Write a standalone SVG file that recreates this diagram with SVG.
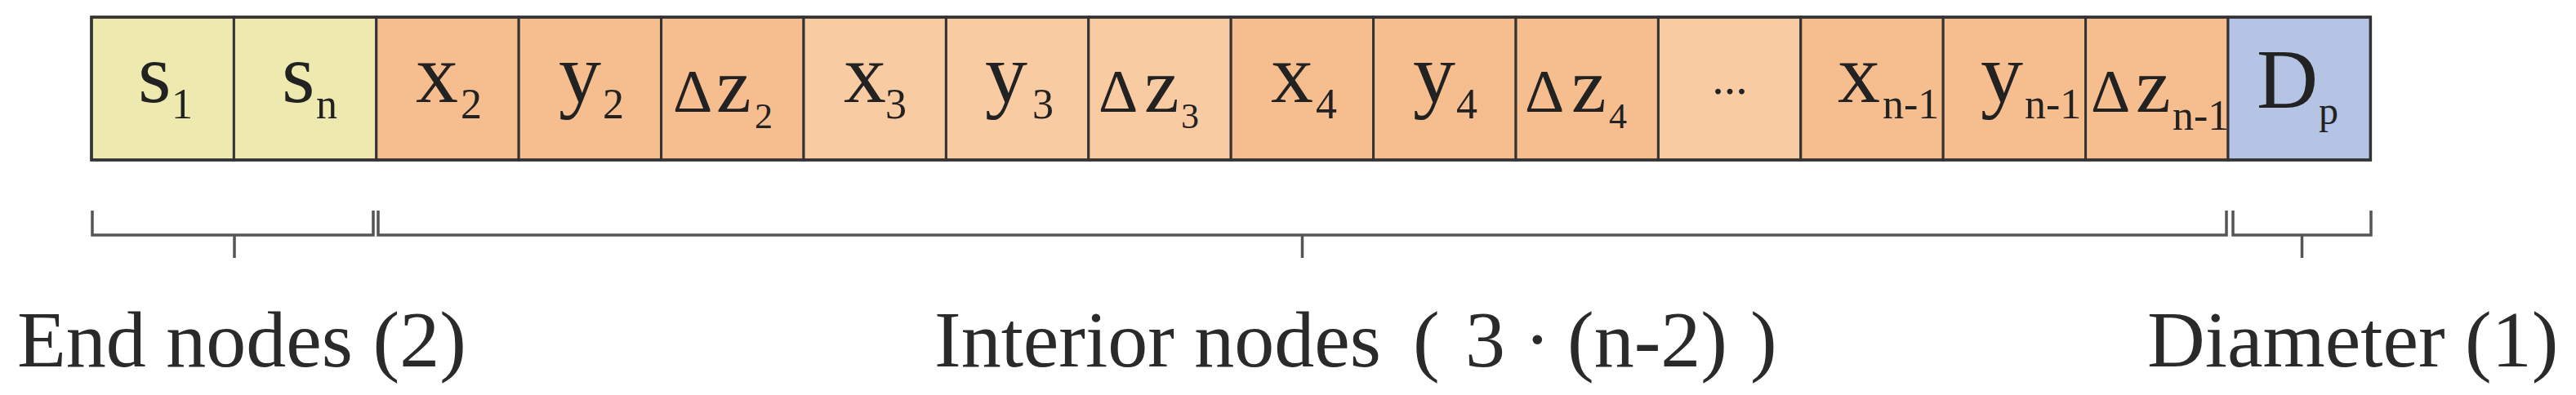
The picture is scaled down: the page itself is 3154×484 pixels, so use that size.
<svg xmlns="http://www.w3.org/2000/svg" width="3154" height="484" viewBox="0 0 3154 484" font-family="'Liberation Serif', 'DejaVu Serif', serif">
<style>
  .cell { stroke: #333333; stroke-width: 3; }
  .yel { fill: #EEEAAF; }
  .dk { fill: #F6BD8F; }
  .lt { fill: #F9CBA3; }
  .blu { fill: #B5C3E4; }
  .t { font-family: 'Liberation Serif', 'DejaVu Serif', serif; fill: #222222; }
  .m { font-size: 104px; }
  .s { font-size: 52px; }
  .dl { font-size: 75px; }
  .zz { font-size: 96px; }
  .ss { font-size: 44px; }
  .lbl { font-size: 98px; fill: #2a2a2a; }
  .br { fill: none; stroke: #555555; stroke-width: 3.5; }
</style>
<rect x="0" y="0" width="3154" height="484" fill="#ffffff"/>

<g id="cells">
  <g id="node-s1"><rect class="cell yel" x="112" y="21" width="174.4" height="175"/>
    <text class="t m" x="169" y="125">s</text><text class="t s" x="210" y="145">1</text></g>
  <g id="node-sn"><rect class="cell yel" x="286.4" y="21" width="174.4" height="175"/>
    <text class="t m" x="345" y="125">s</text><text class="t s" x="387" y="145">n</text></g>
  <g id="node-x2"><rect class="cell dk" x="460.8" y="21" width="174.4" height="175"/>
    <text class="t m" x="509" y="125">x</text><text class="t s" x="564" y="145">2</text></g>
  <g id="node-y2"><rect class="cell dk" x="635.2" y="21" width="174.4" height="175"/>
    <text class="t m" x="684" y="125">y</text><text class="t s" x="738" y="145">2</text></g>
  <g id="node-dz2"><rect class="cell dk" x="809.6" y="21" width="174.4" height="175"/>
    <text class="t dl" x="824" y="137">Δ</text><text class="t zz" x="877" y="137">z</text><text class="t ss" x="924" y="157">2</text></g>
  <g id="node-x3"><rect class="cell lt" x="984" y="21" width="174.4" height="175"/>
    <text class="t m" x="1033" y="125">x</text><text class="t s" x="1084" y="145">3</text></g>
  <g id="node-y3"><rect class="cell lt" x="1158.4" y="21" width="174.4" height="175"/>
    <text class="t m" x="1206" y="125">y</text><text class="t s" x="1264" y="145">3</text></g>
  <g id="node-dz3"><rect class="cell lt" x="1332.8" y="21" width="174.4" height="175"/>
    <text class="t dl" x="1345" y="137">Δ</text><text class="t zz" x="1401" y="137">z</text><text class="t ss" x="1446" y="157">3</text></g>
  <g id="node-x4"><rect class="cell dk" x="1507.2" y="21" width="174.4" height="175"/>
    <text class="t m" x="1556" y="125">x</text><text class="t s" x="1611" y="145">4</text></g>
  <g id="node-y4"><rect class="cell dk" x="1681.6" y="21" width="174.4" height="175"/>
    <text class="t m" x="1730" y="125">y</text><text class="t s" x="1783" y="145">4</text></g>
  <g id="node-dz4"><rect class="cell dk" x="1856" y="21" width="174.4" height="175"/>
    <text class="t dl" x="1867" y="137">Δ</text><text class="t zz" x="1924" y="137">z</text><text class="t ss" x="1970" y="157">4</text></g>
  <g id="node-dots"><rect class="cell lt" x="2030.4" y="21" width="174.4" height="175"/>
    <text class="t" x="2118" y="115" font-size="58" text-anchor="middle">...</text></g>
  <g id="node-xn1"><rect class="cell dk" x="2204.8" y="21" width="174.4" height="175"/>
    <text class="t m" x="2250" y="125">x</text><text class="t s" x="2305" y="145">n-1</text></g>
  <g id="node-yn1"><rect class="cell dk" x="2379.2" y="21" width="174.4" height="175"/>
    <text class="t m" x="2425" y="125">y</text><text class="t s" x="2479" y="145">n-1</text></g>
  <g id="node-dzn1"><rect class="cell dk" x="2553.6" y="21" width="174.4" height="175"/>
    <text class="t dl" x="2560" y="137">Δ</text><text class="t zz" x="2615" y="137">z</text><text class="t s" x="2660" y="159">n-1</text></g>
  <g id="node-Dp"><rect class="cell blu" x="2728" y="21" width="174.4" height="175"/>
    <text class="t m" x="2763" y="132">D</text><text class="t" x="2839" y="152" font-size="48">p</text></g>
  <rect x="112" y="21" width="2790.4" height="175" fill="none" stroke="#333333" stroke-width="3.5"/>
</g>

<g id="connectors">
  <path class="br" d="M113,258 V288 H457 V258 M287,288 V316"/>
  <path class="br" d="M463,258 V288 H2726 V258 M1594.5,288 V316"/>
  <path class="br" d="M2734,258 V288 H2903 V258 M2818.5,288 V316"/>
</g>

<g id="labels">
  <g id="label-end"><text class="t lbl" x="21" y="449">End nodes (2)</text></g>
  <g id="label-interior"><text class="t lbl" y="449"><tspan x="1144">Interior nodes</tspan><tspan x="1730">(</tspan><tspan x="1794">3</tspan><tspan x="1866">·</tspan><tspan x="1919">(n-2)</tspan><tspan x="2143">)</tspan></text></g>
  <g id="label-diameter"><text class="t lbl" x="2629" y="449">Diameter (1)</text></g>
</g>
</svg>
